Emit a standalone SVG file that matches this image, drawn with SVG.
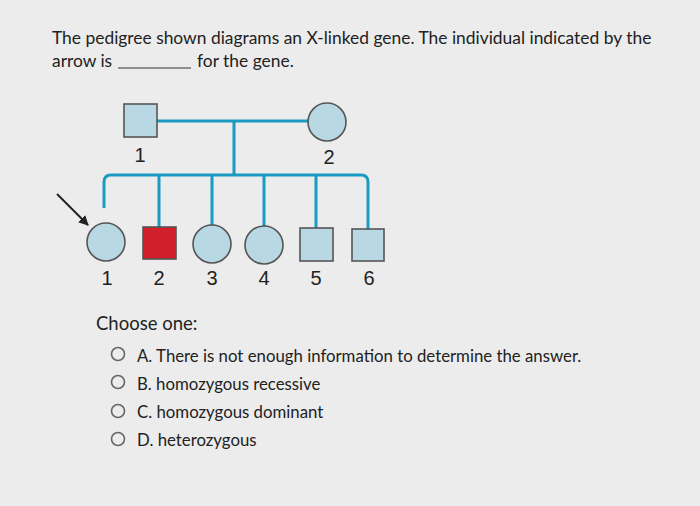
<svg xmlns="http://www.w3.org/2000/svg" width="700" height="506" viewBox="0 0 700 506">
<defs>
<style>
.t{font-family:Lato,"Open Sans",sans-serif;fill:#222;}
.n{font-family:"Liberation Sans",Arial,sans-serif;font-size:20px;fill:#222;text-anchor:middle;}
.c{stroke:#1a9bc2;stroke-width:3;fill:none;}
.ind{fill:#b8d8e4;stroke:#555;stroke-width:1.6;}
.aff{fill:#d21f2c;stroke:#555;stroke-width:1.6;}
.radio{fill:none;stroke:#666;stroke-width:1.6;}
</style>
<marker id="ah" viewBox="0 0 10 10" refX="9" refY="5" markerWidth="5" markerHeight="5" orient="auto" markerUnits="strokeWidth">
<path d="M0,0 L10,5 L0,10 z" fill="#222"/>
</marker>
</defs>
<rect width="700" height="506" fill="#ececec"/>
<text class="t" x="52" y="44" font-size="17.4">The pedigree shown diagrams an X-linked gene. The individual indicated by the</text>
<text class="t" x="52" y="67" font-size="17.4">arrow is</text>
<line x1="118" y1="68" x2="191" y2="68" stroke="#333" stroke-width="1"/>
<text class="t" x="197" y="67" font-size="17.4">for the gene.</text>

<g id="connectors">
<line class="c" x1="157" y1="121" x2="308" y2="121"/>
<line class="c" x1="234" y1="121" x2="234" y2="175"/>
<path class="c" d="M104,208 V182 Q104,175 111,175 H361 Q368,175 368,182 V229"/>
<line class="c" x1="159" y1="175" x2="159" y2="227"/>
<line class="c" x1="212" y1="175" x2="212" y2="226"/>
<line class="c" x1="264" y1="175" x2="264" y2="226"/>
<line class="c" x1="316" y1="175" x2="316" y2="228"/>
<line x1="57" y1="194" x2="88" y2="225" stroke="#222" stroke-width="2" marker-end="url(#ah)"/>
</g>

<g id="p1"><rect class="ind" x="124" y="104" width="33" height="33"/><text class="n" x="140" y="162">1</text></g>
<g id="p2"><circle class="ind" cx="327" cy="122" r="19"/><text class="n" x="329" y="164">2</text></g>
<g id="c1"><circle class="ind" cx="106" cy="242" r="19"/><text class="n" x="107" y="285">1</text></g>
<g id="c2"><rect class="aff" x="143" y="227" width="33" height="32"/><text class="n" x="159" y="285">2</text></g>
<g id="c3"><circle class="ind" cx="212" cy="244" r="19"/><text class="n" x="212" y="285">3</text></g>
<g id="c4"><circle class="ind" cx="264" cy="245" r="19"/><text class="n" x="264" y="285">4</text></g>
<g id="c5"><rect class="ind" x="300" y="228" width="33" height="33"/><text class="n" x="316" y="285">5</text></g>
<g id="c6"><rect class="ind" x="352" y="229" width="32" height="32"/><text class="n" x="369" y="285">6</text></g>

<text class="t" x="96" y="330" font-size="18.5">Choose one:</text>
<circle class="radio" cx="118" cy="354" r="6.5"/>
<text class="t" x="137" y="362" font-size="16.8">A. There is not enough information to determine the answer.</text>
<circle class="radio" cx="118" cy="382" r="6.5"/>
<text class="t" x="137" y="390" font-size="16.8">B. homozygous recessive</text>
<circle class="radio" cx="118" cy="411" r="6.5"/>
<text class="t" x="137" y="418" font-size="16.8">C. homozygous dominant</text>
<circle class="radio" cx="118" cy="439" r="6.5"/>
<text class="t" x="137" y="446" font-size="16.8">D. heterozygous</text>
</svg>
